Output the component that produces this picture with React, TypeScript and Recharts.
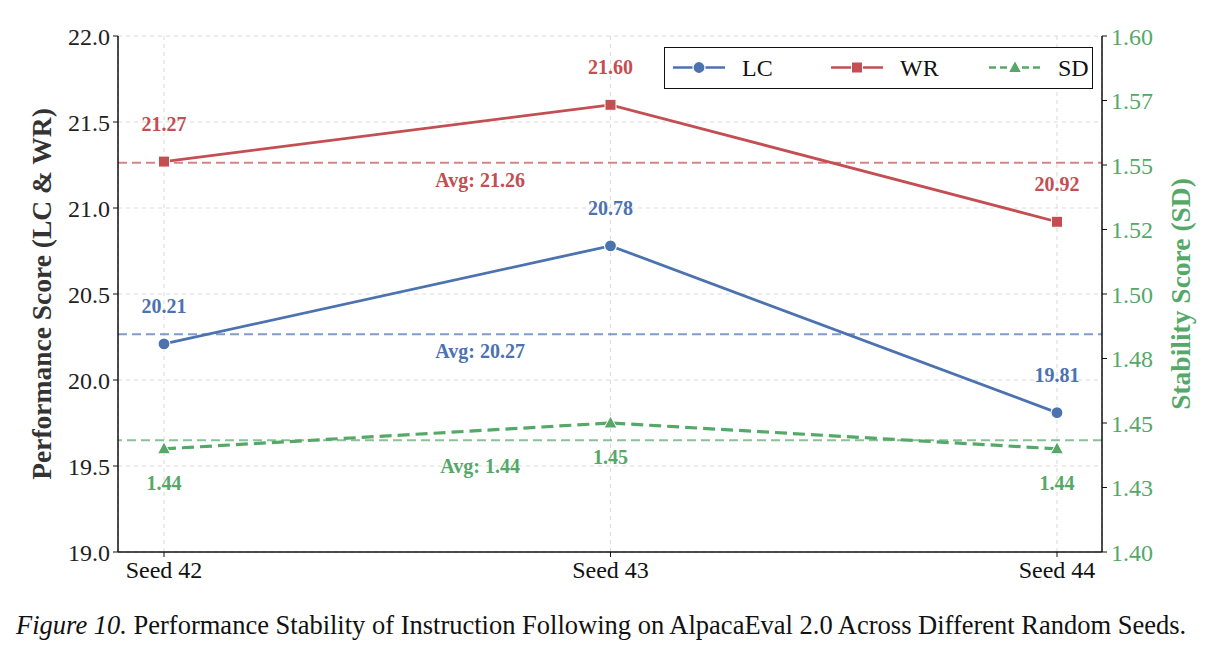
import React from 'react';
import { LineChart, Line, XAxis, YAxis, CartesianGrid, ReferenceLine } from 'recharts';

const seeds = ['Seed 42', 'Seed 43', 'Seed 44'];
const lcScores = [20.21, 20.78, 19.81];
const wrScores = [21.27, 21.6, 20.92];
const sdScores = [1.44, 1.45, 1.44];

const leftTicks = [19.0, 19.5, 20.0, 20.5, 21.0, 21.5, 22.0];
const rightTicks = [1.4, 1.425, 1.45, 1.475, 1.5, 1.525, 1.55, 1.575, 1.6];
const rightTickLabels = ['1.40', '1.43', '1.45', '1.48', '1.50', '1.52', '1.55', '1.57', '1.60'];

const BLUE = '#4c72b0';
const RED = '#c44e52';
const GREEN = '#55a868';
const SERIF = '"Liberation Serif", "Times New Roman", Times, Tinos, "DejaVu Serif", serif';

const mean = (a: number[]) => a.reduce((s, v) => s + v, 0) / a.length;

const data = seeds.map((seed, i) => ({
  seed,
  lc: lcScores[i],
  wr: wrScores[i],
  sd: sdScores[i],
}));

const legendItems = [
  { name: 'LC', color: BLUE, marker: 'circle', dash: undefined as string | undefined },
  { name: 'WR', color: RED, marker: 'square', dash: undefined as string | undefined },
  { name: 'SD', color: GREEN, marker: 'triangle', dash: '7 4' },
];

function Marker({ kind, cx, cy, color }: { kind: string; cx: number; cy: number; color: string }) {
  if (kind === 'square') {
    return <rect x={cx - 5.5} y={cy - 5.5} width={11} height={11} fill={color} stroke="#fff" strokeWidth={1} />;
  }
  if (kind === 'triangle') {
    return (
      <polygon
        points={`${cx},${cy - 7} ${cx + 6.5},${cy + 5} ${cx - 6.5},${cy + 5}`}
        fill={color}
        stroke="#fff"
        strokeWidth={1}
      />
    );
  }
  return <circle cx={cx} cy={cy} r={6} fill={color} stroke="#fff" strokeWidth={1.2} />;
}

const dotFor = (kind: string, color: string) => (p: any) =>
  <Marker key={`${kind}-${p.index}`} kind={kind} cx={p.cx} cy={p.cy} color={color} />;

// value labels above (dy < 0) or below (dy > 0) each marker
const valueLabel = (color: string, dy: number) => (p: any) => (
  <text
    key={`${color}-${p.index}`}
    x={p.x}
    y={p.y + dy}
    textAnchor="middle"
    dominantBaseline="central"
    fill={color}
    fontFamily={SERIF}
    fontWeight="bold"
    fontSize={20}
  >
    {Number(p.value).toFixed(2)}
  </text>
);

const avgLabel = (text: string, color: string, dy: number) => (p: any) => {
  const vb = p.viewBox;
  return (
    <text
      x={vb.x + vb.width * 0.368}
      y={vb.y + dy}
      textAnchor="middle"
      dominantBaseline="central"
      fill={color}
      fontFamily={SERIF}
      fontWeight="bold"
      fontSize={20}
    >
      {text}
    </text>
  );
};

function LegendBox() {
  const slots = [0, 158, 316];
  return (
    <div
      style={{
        position: 'absolute',
        left: 664,
        top: 47,
        width: 429,
        height: 42,
        border: '1.5px solid #111',
        background: '#fff',
        boxSizing: 'border-box',
      }}
    >
      <svg width={426} height={39} style={{ position: 'absolute', left: 0, top: 0 }}>
        {legendItems.map((it, i) => {
          const x0 = 8 + slots[i];
          return (
            <g key={it.name}>
              <line x1={x0} y1={19.5} x2={x0 + 52} y2={19.5} stroke={it.color} strokeWidth={2.5} strokeDasharray={it.dash} />
              <Marker kind={it.marker} cx={x0 + 26} cy={19.5} color={it.color} />
              <text x={x0 + 69} y={20} dominantBaseline="central" fontFamily={SERIF} fontSize={24} fill="#111">
                {it.name}
              </text>
            </g>
          );
        })}
      </svg>
    </div>
  );
}

export default function App() {
  const tickStyle = { fontFamily: SERIF, fontSize: 24, fill: '#222' };
  return (
    <div style={{ position: 'absolute', left: 0, top: 0, width: 1221, height: 659, background: '#fff' }}>
      <LineChart width={1221} height={590} data={data} margin={{ top: 36, right: 0, left: 0, bottom: 0 }}>
        <CartesianGrid yAxisId="left" stroke="#d9d9d9" strokeDasharray="4 4" strokeWidth={1} />
        <XAxis
          dataKey="seed"
          height={38}
          padding={{ left: 46, right: 45 }}
          tick={{ ...tickStyle, fill: '#111' }}
          tickSize={5}
          tickMargin={4}
          stroke="#111"
          axisLine={{ stroke: '#111', strokeWidth: 1.5 }}
          tickLine={{ stroke: '#111' }}
        />
        <XAxis
          xAxisId="top"
          dataKey="seed"
          orientation="top"
          height={0}
          tick={false}
          tickLine={false}
          axisLine={{ stroke: '#111', strokeWidth: 1.5 }}
        />
        <YAxis
          yAxisId="left"
          width={118}
          domain={[19, 22]}
          ticks={leftTicks}
          tickFormatter={(v: number) => v.toFixed(1)}
          tick={tickStyle}
          tickSize={5}
          tickMargin={3}
          axisLine={{ stroke: '#111', strokeWidth: 1.5 }}
          tickLine={{ stroke: '#111' }}
          label={{
            value: 'Performance Score (LC & WR)',
            angle: -90,
            position: 'insideLeft',
            offset: 47,
            dx: -6,
            style: { fontFamily: SERIF, fontSize: 27.5, fontWeight: 'bold', fill: '#333', textAnchor: 'middle' },
          }}
        />
        <YAxis
          yAxisId="right"
          orientation="right"
          width={119}
          domain={[1.4, 1.6]}
          ticks={rightTicks}
          tickFormatter={(v: number, i: number) => rightTickLabels[i]}
          tick={{ ...tickStyle, fill: GREEN }}
          tickSize={5}
          tickMargin={4}
          axisLine={{ stroke: '#111', strokeWidth: 1.5 }}
          tickLine={{ stroke: '#111' }}
          label={{
            value: 'Stability Score (SD)',
            angle: -90,
            position: 'insideRight',
            offset: 49,
            dx: 8,
            style: { fontFamily: SERIF, fontSize: 27.5, fontWeight: 'bold', fill: GREEN, textAnchor: 'middle' },
          }}
        />

        <ReferenceLine
          yAxisId="left"
          y={mean(wrScores)}
          stroke={RED}
          strokeOpacity={0.7}
          strokeWidth={2}
          strokeDasharray="9 5"
          label={avgLabel(`Avg: ${mean(wrScores).toFixed(2)}`, RED, 17)}
        />
        <ReferenceLine
          yAxisId="left"
          y={mean(lcScores)}
          stroke={BLUE}
          strokeOpacity={0.7}
          strokeWidth={2}
          strokeDasharray="9 5"
          label={avgLabel(`Avg: ${mean(lcScores).toFixed(2)}`, BLUE, 17)}
        />
        <ReferenceLine
          yAxisId="right"
          y={mean(sdScores)}
          stroke={GREEN}
          strokeOpacity={0.7}
          strokeWidth={2}
          strokeDasharray="9 5"
          label={avgLabel(`Avg: ${mean(sdScores).toFixed(2)}`, GREEN, 26)}
        />

        <Line
          yAxisId="left"
          dataKey="lc"
          stroke={BLUE}
          strokeWidth={2.8}
          dot={dotFor('circle', BLUE)}
          activeDot={false}
          label={valueLabel(BLUE, -38)}
          isAnimationActive={false}
        />
        <Line
          yAxisId="left"
          dataKey="wr"
          stroke={RED}
          strokeWidth={2.8}
          dot={dotFor('square', RED)}
          activeDot={false}
          label={valueLabel(RED, -38)}
          isAnimationActive={false}
        />
        <Line
          yAxisId="right"
          dataKey="sd"
          stroke={GREEN}
          strokeWidth={3.2}
          strokeDasharray="12 6"
          dot={dotFor('triangle', GREEN)}
          activeDot={false}
          label={valueLabel(GREEN, 34)}
          isAnimationActive={false}
        />
      </LineChart>
      <LegendBox />
      <div
        style={{
          position: 'absolute',
          left: 16,
          top: 610,
          fontFamily: SERIF,
          fontSize: 26.5,
          color: '#111',
          whiteSpace: 'nowrap',
        }}
      >
        <i>Figure 10.</i> Performance Stability of Instruction Following on AlpacaEval 2.0 Across Different Random Seeds.
      </div>
    </div>
  );
}
